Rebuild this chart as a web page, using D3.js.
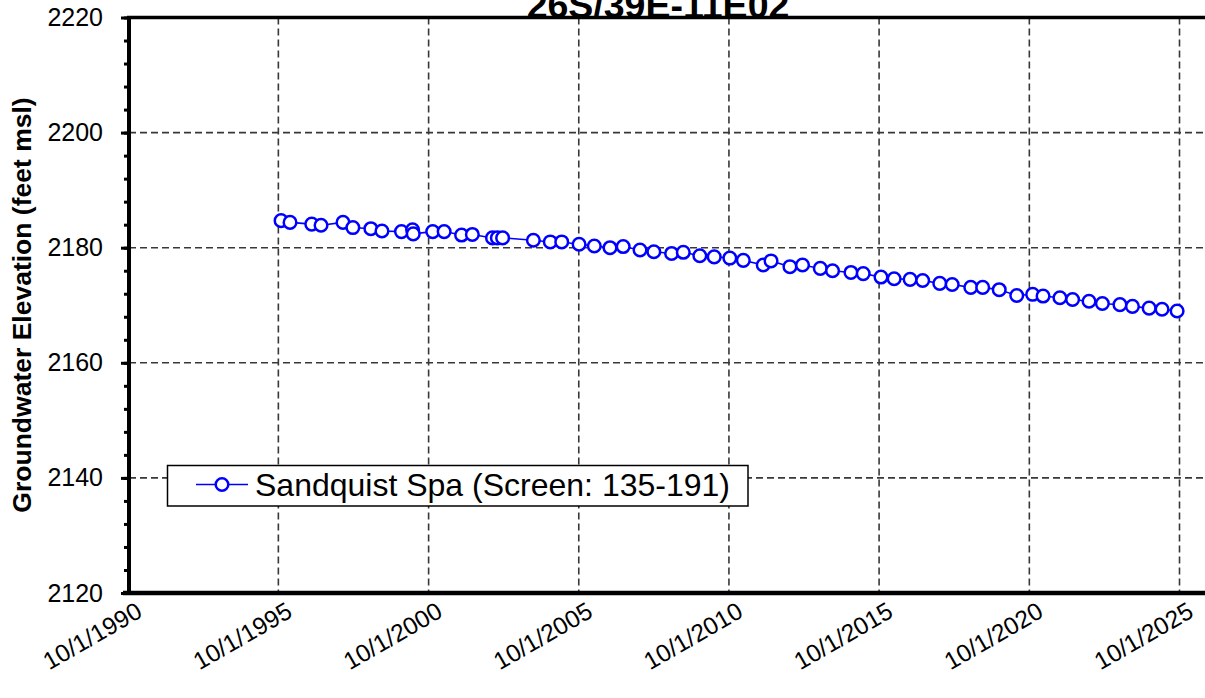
<!DOCTYPE html>
<html>
<head>
<meta charset="utf-8">
<script src="https://cdn.jsdelivr.net/npm/d3@7"></script>
<style>
  html, body { margin: 0; padding: 0; background: #fff; }
  svg { display: block; font-family: Arial, "Liberation Sans", sans-serif; }
</style>
</head>
<body>
<svg id="chart" width="1205" height="698"></svg>
<script>
// ---- data ----
const chartTitle = "26S/39E-11E02";
const yAxisTitle = "Groundwater Elevation (feet msl)";
const seriesName = "Sandquist Spa (Screen: 135-191)";

const dates = [
  "1995-11-03","1996-02-20","1996-11-10","1997-03-03","1997-11-25","1998-03-25",
  "1998-10-30","1999-03-14","1999-11-06","2000-03-20","2000-03-28","2000-11-20",
  "2001-04-08","2001-11-06","2002-03-17","2002-11-17","2003-01-15","2003-03-20",
  "2004-03-28","2004-10-20","2005-03-08","2005-10-05","2006-04-08","2006-10-16",
  "2007-03-25","2007-10-16","2008-04-01","2008-11-03","2009-03-25","2009-10-12",
  "2010-04-05","2010-10-12","2011-03-25","2011-11-22","2012-02-25","2012-10-12",
  "2013-03-14","2013-10-16","2014-03-14","2014-10-24","2015-03-22","2015-10-24",
  "2016-04-01","2016-10-12","2017-03-14","2017-10-08","2018-03-08","2018-10-20",
  "2019-03-14","2019-10-01","2020-05-01","2020-11-10","2021-03-17","2021-10-08",
  "2022-03-11","2022-09-27","2023-03-08","2023-10-08","2024-03-08","2024-09-27",
  "2025-03-03","2025-09-02"
];
const elevations = [
  2184.7, 2184.4, 2184.1, 2183.9, 2184.4, 2183.5,
  2183.3, 2182.9, 2182.8, 2183.1, 2182.4, 2182.8,
  2182.8, 2182.2, 2182.3, 2181.7, 2181.7, 2181.7,
  2181.3, 2181.0, 2181.0, 2180.6, 2180.3, 2180.0,
  2180.2, 2179.6, 2179.3, 2179.0, 2179.2, 2178.6,
  2178.4, 2178.2, 2177.8, 2177.0, 2177.7, 2176.7,
  2177.0, 2176.4, 2176.0, 2175.7, 2175.5, 2174.9,
  2174.6, 2174.5, 2174.3, 2173.8, 2173.6, 2173.1,
  2173.1, 2172.7, 2171.7, 2171.9, 2171.6, 2171.3,
  2171.0, 2170.7, 2170.3, 2170.1, 2169.8, 2169.5,
  2169.3, 2169.0
];
const xTickLabels = ["10/1/1990","10/1/1995","10/1/2000","10/1/2005","10/1/2010","10/1/2015","10/1/2020","10/1/2025"];
const yTickValues = [2120, 2140, 2160, 2180, 2200, 2220];
const yMinorTickValues = d3.range(2120, 2220.1, 4);

// ---- layout ----
const parse = d3.timeParse("%Y-%m-%d");
const parseTick = d3.timeParse("%m/%d/%Y");
const data = dates.map((d, i) => ({ date: parse(d), value: elevations[i] }));
const xTicks = xTickLabels.map(s => parseTick(s));

const plotL = 129, plotR = 1179.5, plotT = 17.5, plotB = 593;
const x = d3.scaleTime().domain([xTicks[0], xTicks[xTicks.length - 1]]).range([plotL - 0.8, plotR]);
const y = d3.scaleLinear().domain([2120, 2220]).range([plotB, plotT]);

const svg = d3.select("#chart");
const gridColor = "#383838";

// gridlines
svg.append("g").selectAll("line").data(yTickValues.filter(v => v > 2120 && v < 2220)).join("line")
  .attr("x1", plotL).attr("x2", 1210).attr("y1", d => y(d)).attr("y2", d => y(d))
  .attr("stroke", gridColor).attr("stroke-width", 1.6).attr("stroke-dasharray", "7,4");
svg.append("g").selectAll("line").data(xTicks.slice(1)).join("line")
  .attr("x1", d => x(d)).attr("x2", d => x(d)).attr("y1", plotT).attr("y2", plotB)
  .attr("stroke", gridColor).attr("stroke-width", 1.6).attr("stroke-dasharray", "7,4");

// y axis with d3
const yAxis = d3.axisLeft(y).tickValues(yTickValues).tickSize(8).tickPadding(18).tickFormat(d3.format("d"));
const gy = svg.append("g").attr("transform", `translate(${plotL},0)`).call(yAxis);
gy.select(".domain").remove();
gy.selectAll(".tick line").attr("stroke", "#000").attr("stroke-width", 3);
gy.selectAll(".tick text").attr("font-size", 25).attr("fill", "#000").attr("font-family", "Arial, 'Liberation Sans', sans-serif");
const yMinor = d3.axisLeft(y).tickValues(yMinorTickValues).tickSize(5).tickFormat("");
const gyMinor = svg.append("g").attr("transform", `translate(${plotL},0)`).call(yMinor);
gyMinor.select(".domain").remove();
gyMinor.selectAll(".tick line").attr("stroke", "#000").attr("stroke-width", 3);

// x axis labels with d3
const xAxis = d3.axisBottom(x).tickValues(xTicks).tickSize(0).tickFormat((d, i) => xTickLabels[i]);
const gx = svg.append("g").attr("transform", `translate(0,${plotB})`).call(xAxis);
gx.select(".domain").remove();
gx.selectAll(".tick text")
  .attr("font-size", 24.5).attr("fill", "#000").attr("font-family", "Arial, 'Liberation Sans', sans-serif")
  .attr("text-anchor", "end").attr("dy", 0).attr("y", 0)
  .attr("transform", "translate(15,23) rotate(-30)");

// frame
svg.append("line").attr("x1", plotL).attr("x2", plotL).attr("y1", plotT - 1.5).attr("y2", plotB + 2)
  .attr("stroke", "#000").attr("stroke-width", 4);
svg.append("line").attr("x1", plotL - 6).attr("x2", 1210).attr("y1", plotB).attr("y2", plotB)
  .attr("stroke", "#000").attr("stroke-width", 4.5);

// series
const line = d3.line().x(d => x(d.date)).y(d => y(d.value));
svg.append("path").datum(data).attr("d", line)
  .attr("fill", "none").attr("stroke", "#0000ff").attr("stroke-width", 1.6);
svg.append("g").selectAll("circle").data(data).join("circle")
  .attr("cx", d => x(d.date)).attr("cy", d => y(d.value)).attr("r", 6.3)
  .attr("fill", "#fff").attr("stroke", "#0000ff").attr("stroke-width", 2.5);

// title
svg.append("text").attr("x", 658).attr("y", 18).attr("text-anchor", "middle")
  .attr("font-size", 37.5).attr("font-weight", "bold").attr("fill", "#000").text(chartTitle);
// top frame line over title bottom
svg.append("line").attr("x1", plotL - 2).attr("x2", 1210).attr("y1", plotT).attr("y2", plotT)
  .attr("stroke", "#000").attr("stroke-width", 3.5);

// y axis title
svg.append("text").attr("transform", "translate(31,305) rotate(-90)").attr("text-anchor", "middle")
  .attr("font-size", 26.5).attr("font-weight", "bold").attr("fill", "#000").text(yAxisTitle);

// legend
const lg = svg.append("g");
lg.append("rect").attr("x", 167.5).attr("y", 465.5).attr("width", 580.5).attr("height", 40.5)
  .attr("fill", "#fff").attr("stroke", "#000").attr("stroke-width", 1.5);
lg.append("line").attr("x1", 196).attr("x2", 248).attr("y1", 484.5).attr("y2", 484.5)
  .attr("stroke", "#0000ff").attr("stroke-width", 1.6);
lg.append("circle").attr("cx", 222).attr("cy", 484.5).attr("r", 6.3)
  .attr("fill", "#fff").attr("stroke", "#0000ff").attr("stroke-width", 2.5);
lg.append("text").attr("x", 255).attr("y", 496).attr("font-size", 32).attr("fill", "#000").text(seriesName);
</script>
</body>
</html>
